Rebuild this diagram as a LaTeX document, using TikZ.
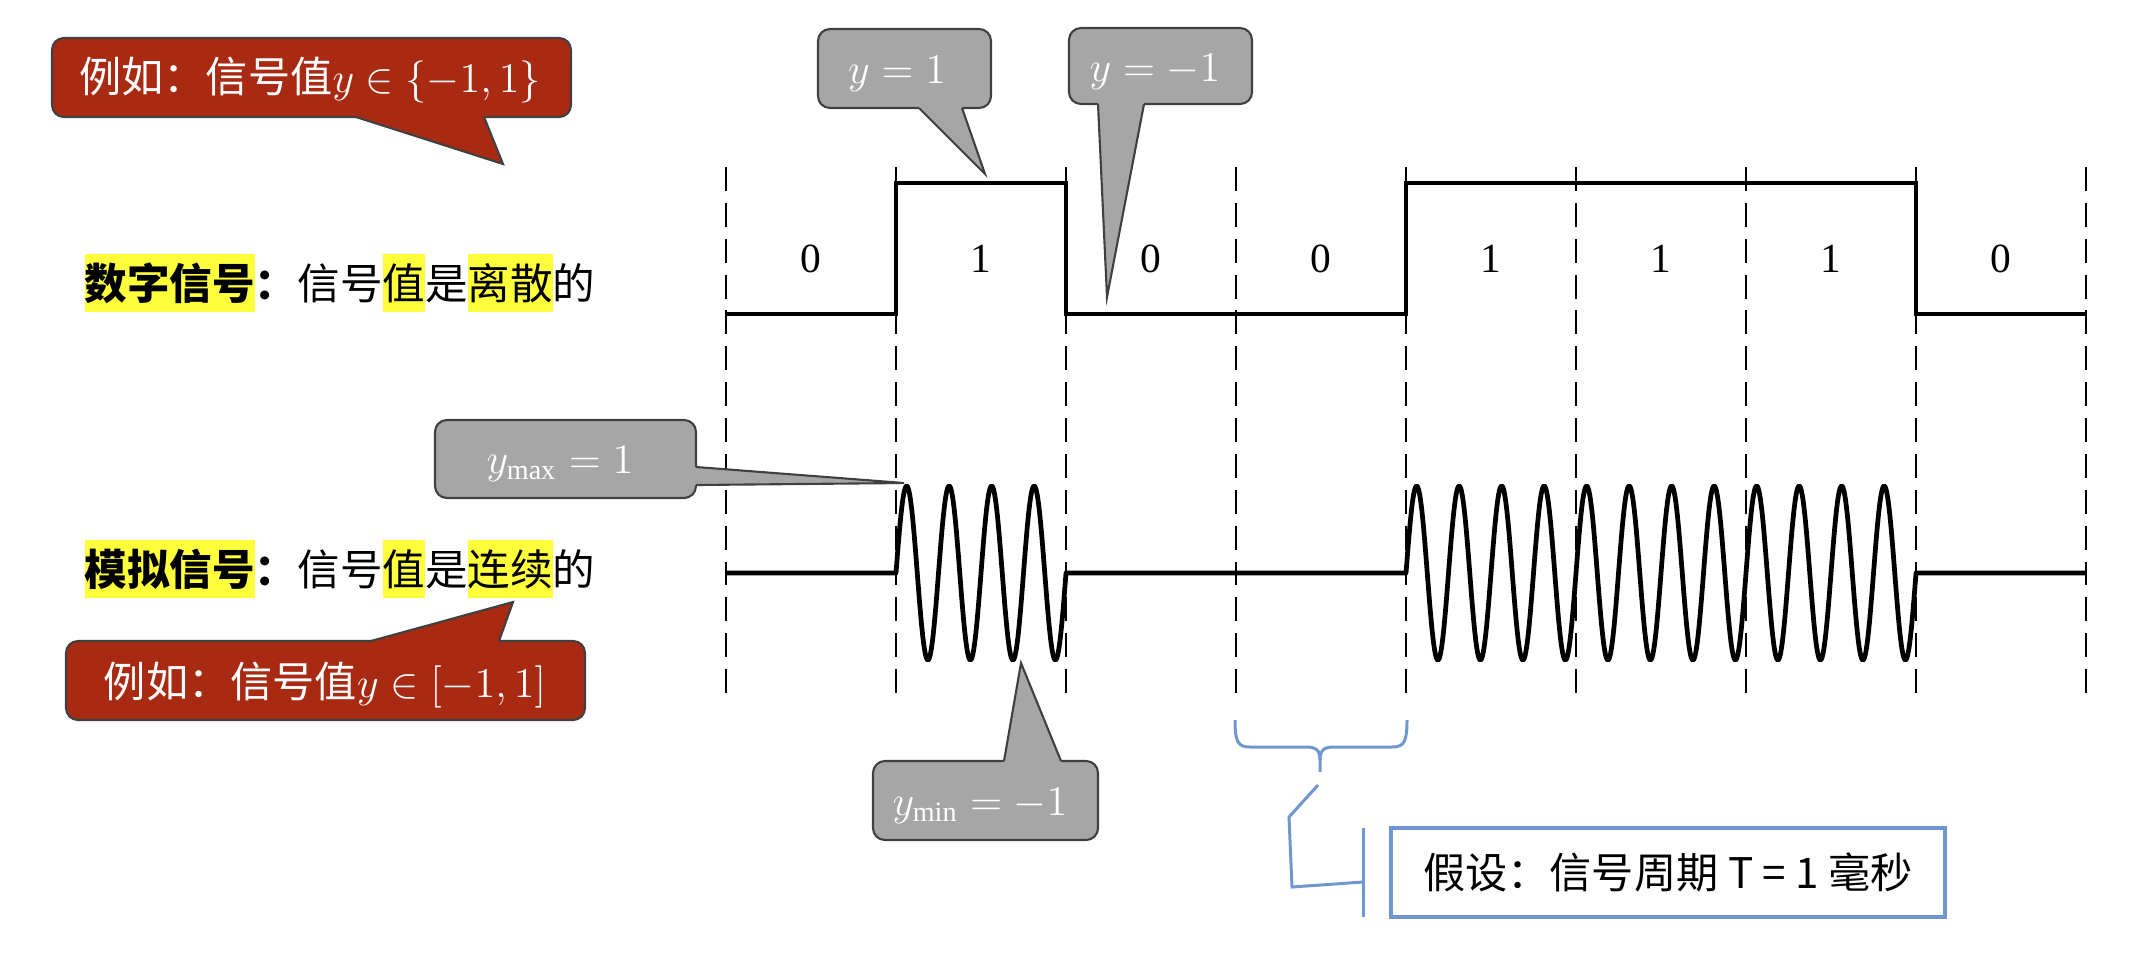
\documentclass[tikz,border=0pt]{standalone}
\usepackage{fontspec}
\setmainfont{Liberation Serif}
\newfontfamily\cjk{Noto Sans CJK SC}
\definecolor{redc}{RGB}{169,42,18}
\definecolor{grayc}{RGB}{166,166,166}
\definecolor{edgec}{RGB}{64,64,64}
\definecolor{bluec}{RGB}{112,151,205}
\definecolor{hly}{RGB}{255,255,60}
\newcommand\hl[1]{{\setlength\fboxsep{0pt}\colorbox{hly}{\rule[-0.3em]{0pt}{1.35em}#1}}}
\begin{document}
\begin{tikzpicture}[x=0.01cm,y=-0.01cm,
  grid/.style={line width=0.7pt, dash pattern=on 6.8pt off 3.4pt},
  sig/.style={line width=1.25pt, line join=miter},
  asig/.style={line width=1.35pt, line join=round},
  bit/.style={inner sep=0pt, font=\fontsize{11.8pt}{14pt}\selectfont},
  redbox/.style={fill=redc, draw=edgec, line width=0.6pt, rounded corners=3.4pt},
  graybox/.style={fill=grayc, draw=edgec, line width=0.6pt, rounded corners=3.4pt},
  bord/.style={draw=edgec, line width=0.6pt, line join=miter},
  calltext/.style={anchor=base, inner sep=0pt, text=white, font=\cjk\fontsize{12pt}{14pt}\selectfont},
  lefttext/.style={anchor=base west, inner sep=0pt, font=\cjk\fontsize{12.1pt}{14pt}\selectfont},
  blueline/.style={draw=bluec, line width=0.85pt},
]
\useasboundingbox (0,0) rectangle (2140,960);

% dashed cell borders
\foreach \k in {0,...,8}{
  \draw[grid] ({726+170*\k},167) -- ({726+170*\k},703);
}

% digital signal
\draw[sig] (726,314) -- (896,314) -- (896,183) -- (1066,183) -- (1066,314)
  -- (1406,314) -- (1406,183) -- (1916,183) -- (1916,314) -- (2086,314);

% bit labels
\foreach \b [count=\i from 0] in {0,1,0,0,1,1,1,0}{
  \node[bit] (bit\i) at ({811+170*\i},259) {\b};
}

% analog signal
\draw[asig] (726,573) -- (896,573)
  -- plot[domain=896:1066, samples=241] (\x,{573-87*sin((\x-896)*8.470588)})
  -- (1406,573)
  -- plot[domain=1406:1916, samples=721] (\x,{573-87*sin((\x-1406)*8.470588)})
  -- (2086,573);

% left texts
\node[lefttext] (digital) at (84,299) {\hl{\bfseries 数字信号}{\bfseries ：}信号\hl{值}是\hl{离散}的};
\node[lefttext] (analog) at (84,585) {\hl{\bfseries 模拟信号}{\bfseries ：}信号\hl{值}是\hl{连续}的};

% red callout 1
\filldraw[redbox] (52,38) rectangle (571,117);
\fill[redc] (356,117) -- (503,164) -- (484,117) -- (484,112) -- (356,112) -- cycle;
\draw[bord] (356,117) -- (503,164) -- (484,117);
\node[calltext] (ex1) at (310,92) {例如：信号值$y\in\{-1,1\}$};

% red callout 2
\filldraw[redbox] (66,641) rectangle (585,720);
\fill[redc] (371,641) -- (513,602) -- (499,641) -- (499,646) -- (371,646) -- cycle;
\draw[bord] (371,641) -- (513,602) -- (499,641);
\node[calltext] (ex2) at (325,697) {例如：信号值$y\in[-1,1]$};

% gray callout y=1
\filldraw[graybox] (818,29) rectangle (991,108);
\fill[grayc] (919,108) -- (985,174) -- (962,108) -- (962,103) -- (919,103) -- cycle;
\draw[bord] (919,108) -- (985,174) -- (962,108);
\node[calltext] (yone) at (897,83) {$y=1$};

% gray callout y=-1
\filldraw[graybox] (1069,28) rectangle (1252,104);
\fill[grayc] (1098,104) -- (1107,297) -- (1144,104) -- (1144,99) -- (1098,99) -- cycle;
\draw[bord] (1098,104) -- (1107,297) -- (1144,104);
\node[calltext] (ymone) at (1155,81) {$y=-1$};

% gray callout y_max
\filldraw[graybox] (435,420) rectangle (696,498);
\fill[grayc] (696,467) -- (904,483) -- (696,485) -- (691,485) -- (691,467) -- cycle;
\draw[bord] (696,467) -- (904,483) -- (696,485);
\node[calltext] (ymax) at (560,473) {$y_{\max}=1$};

% gray callout y_min
\filldraw[graybox] (873,761) rectangle (1098,840);
\fill[grayc] (1004,761) -- (1021,663) -- (1061,761) -- (1061,766) -- (1004,766) -- cycle;
\draw[bord] (1004,761) -- (1021,663) -- (1061,761);
\node[calltext] (ymin) at (980,815) {$y_{\min}=-1$};

% blue brace
\draw[blueline] (1235,720) .. controls (1235,742) and (1238,747) .. (1250,747)
  -- (1306,747) .. controls (1316,747) and (1320,750) .. (1320,760) -- (1320,772);
\draw[blueline] (1320,760) .. controls (1320,750) and (1324,747) .. (1334,747)
  -- (1392,747) .. controls (1404,747) and (1407,742) .. (1407,720);

% blue line callout
\node[draw=bluec, line width=1.1pt, minimum width=5.54cm, minimum height=0.89cm,
  inner sep=0pt, font=\cjk\fontsize{12pt}{14pt}\selectfont] (period) at (1668,872.5)
  {假设：信号周期 T = 1 毫秒};
\coordinate (barT) at (1363,828);
\coordinate (barB) at (1363,917);
\coordinate (lnA) at (1318,785);
\coordinate (lnB) at (1289,817);
\coordinate (lnC) at (1292,887);
\coordinate (lnD) at (1363,882);
\draw[blueline] (barT) -- (barB);
\draw[blueline] (lnA) -- (lnB) -- (lnC) -- (lnD);
\end{tikzpicture}
\end{document}
